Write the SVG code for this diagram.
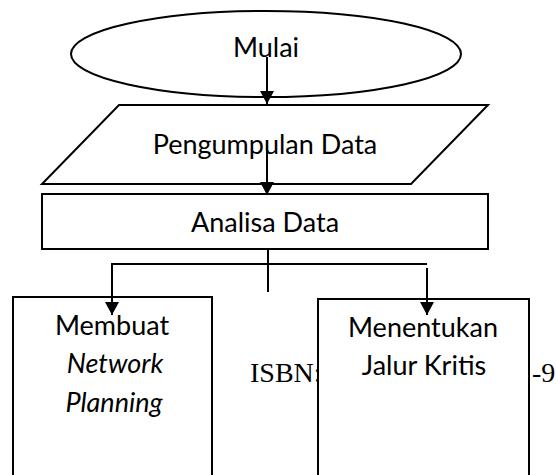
<svg xmlns="http://www.w3.org/2000/svg" width="556" height="475" viewBox="0 0 556 475">
  <style>
    .shape { fill: #ffffff; stroke: #000000; stroke-width: 2; }
    .lbl { font-family: Lato, "Liberation Sans", sans-serif; font-size: 27px; fill: #000000; text-anchor: middle; }
    .it { font-style: italic; }
    .isbn { font-family: "Liberation Serif", serif; font-size: 28px; fill: #000000; }
    .conn { fill: none; stroke: #000000; stroke-width: 2; }
  </style>
  <defs>
    <marker id="ah" markerUnits="userSpaceOnUse" markerWidth="14" markerHeight="14" refX="13" refY="7" orient="auto">
      <path d="M0,0 L13,7 L0,14 z" fill="#000000"/>
    </marker>
  </defs>

  <g id="mulai">
    <ellipse class="shape" cx="266" cy="54" rx="195" ry="43"/>
    <text class="lbl" x="266" y="57">Mulai</text>
  </g>

  <g id="pengumpulan">
    <polygon class="shape" points="119,105 488,105 411,184 42,184"/>
    <text class="lbl" x="265" y="154">Pengumpulan Data</text>
  </g>

  <g id="analisa">
    <rect class="shape" x="42" y="194" width="446" height="55"/>
    <text class="lbl" x="265" y="232">Analisa Data</text>
  </g>

  <g id="network">
    <rect class="shape" x="13" y="297" width="199" height="190"/>
    <text class="lbl" x="112" y="335">Membuat</text>
    <text class="lbl it" x="115" y="373">Network</text>
    <text class="lbl it" x="114" y="412">Planning</text>
  </g>

  <text class="isbn" x="250" y="382">ISBN:</text>
  <text class="isbn" x="532" y="382">-9</text>

  <g id="jalur">
    <rect class="shape" x="318" y="299" width="211" height="190"/>
    <text class="lbl" x="423" y="337">Menentukan</text>
    <text class="lbl" x="424" y="375">Jalur Kritis</text>
  </g>

  <g id="connectors">
    <line class="conn" x1="267" y1="57" x2="267" y2="104" marker-end="url(#ah)"/>
    <line class="conn" x1="267" y1="147" x2="267" y2="195" marker-end="url(#ah)"/>
    <line class="conn" x1="268" y1="249" x2="268" y2="292"/>
    <line class="conn" x1="111" y1="264" x2="427" y2="264"/>
    <line class="conn" x1="112" y1="264" x2="112" y2="315" marker-end="url(#ah)"/>
    <line class="conn" x1="427" y1="268" x2="427" y2="315" marker-end="url(#ah)"/>
  </g>
</svg>
